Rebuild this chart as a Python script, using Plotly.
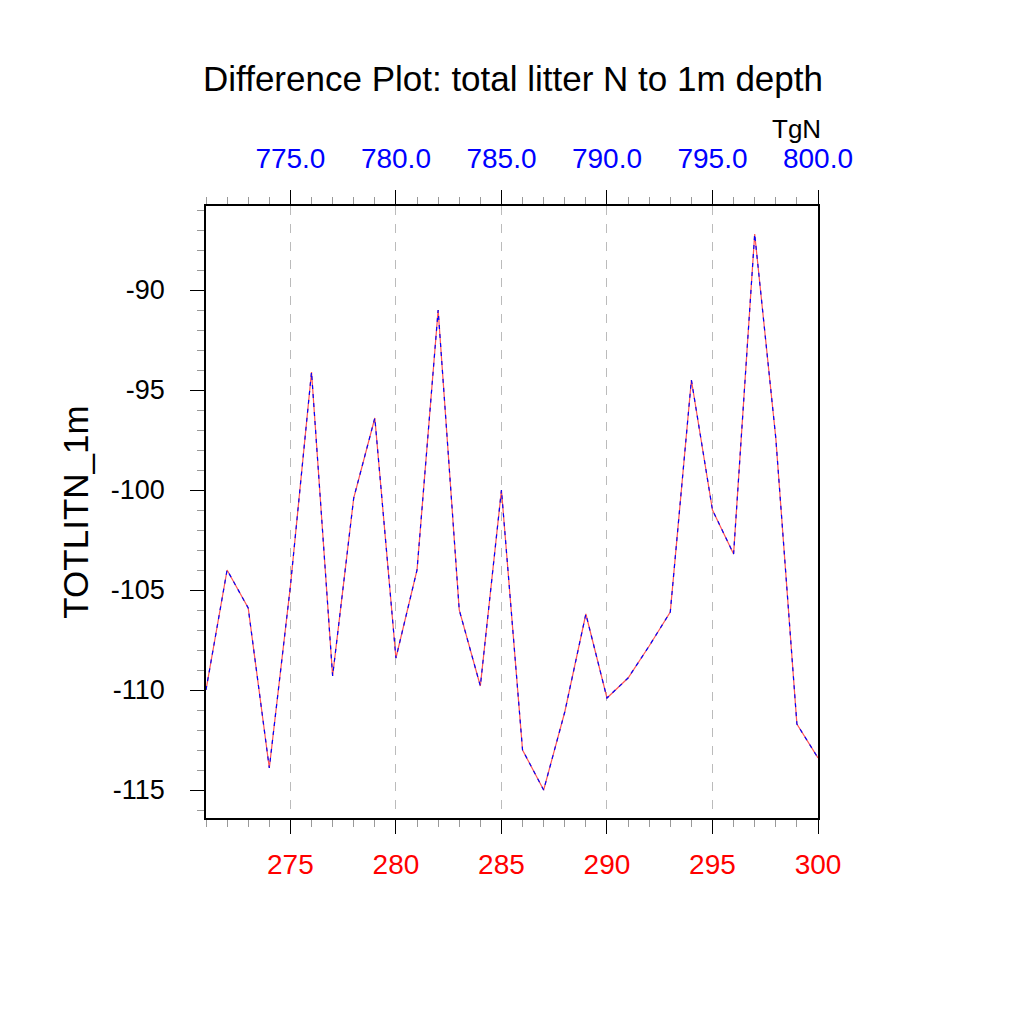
import plotly.graph_objects as go

# x positions and TOTLITN_1m differences
years = list(range(271, 301))
totlitn_diff = [
    -110.0, -104.0, -105.9, -113.9, -104.8, -94.1, -109.3, -100.4, -96.4, -108.4,
    -104.0, -91.0, -106.0, -109.8, -100.0, -113.0, -115.0, -111.1, -106.2, -110.4,
    -109.4, -107.8, -106.1, -94.5, -101.0, -103.2, -87.2, -97.4, -111.7, -113.4,
]

bottom_ticks = [275, 280, 285, 290, 295, 300]
top_ticks = [775, 780, 785, 790, 795, 800]
top_labels = ['775.0', '780.0', '785.0', '790.0', '795.0', '800.0']
y_ticks = [-90, -95, -100, -105, -110, -115]
y_labels = ['-90', '-95', '-100', '-105', '-110', '-115']

font = 'Liberation Sans, Arial, sans-serif'

fig = go.Figure()

# red solid line underneath, blue dashed copy on top
fig.add_trace(go.Scatter(
    x=years, y=totlitn_diff, mode='lines',
    line=dict(color='#ff5555', width=1.2),
    showlegend=False,
))
fig.add_trace(go.Scatter(
    x=years, y=totlitn_diff, mode='lines',
    line=dict(color='blue', width=1.2, dash='4px,5px'),
    showlegend=False,
))
# invisible trace so the top axis exists
fig.add_trace(go.Scatter(
    x=[y + 500 for y in years], y=totlitn_diff, mode='lines',
    line=dict(width=0), opacity=0, hoverinfo='skip',
    xaxis='x2', showlegend=False,
))

fig.update_layout(
    width=1024, height=1024,
    margin=dict(l=198, r=214, t=198, b=214),
    paper_bgcolor='white', plot_bgcolor='white',
    font=dict(family=font, color='black'),
    title=dict(
        text='Difference Plot: total litter N to 1m depth',
        x=(512 - 7) / 1024, xanchor='center', y=1 - 71 / 1024, yanchor='middle',
        font=dict(size=35),
    ),
    xaxis=dict(
        range=[271, 300],
        tickvals=bottom_ticks,
        tickfont=dict(size=28, color='red'),
        ticks='outside', ticklen=14, tickwidth=1.2, tickcolor='black',
        minor=dict(dtick=1, tick0=271, ticks='outside', ticklen=7, tickcolor='#999999'),
        ticklabelstandoff=7,
        showline=True, linecolor='black', linewidth=1.5,
        showgrid=True, gridcolor='#bbbbbb', griddash='dash', gridwidth=1,
        zeroline=False,
    ),
    xaxis2=dict(
        range=[771, 800],
        overlaying='x', side='top',
        tickvals=top_ticks, ticktext=top_labels,
        tickfont=dict(size=28, color='blue'),
        ticks='outside', ticklen=14, tickwidth=1.2, tickcolor='black',
        minor=dict(dtick=1, tick0=771, ticks='outside', ticklen=7, tickcolor='#999999'),
        ticklabelstandoff=11,
        showline=True, linecolor='black', linewidth=1.5,
        showgrid=False, zeroline=False,
    ),
    yaxis=dict(
        range=[-116.4, -85.8],
        tickvals=y_ticks, ticktext=y_labels,
        tickfont=dict(size=27),
        ticks='outside', ticklen=14, tickwidth=1.2, tickcolor='black',
        minor=dict(dtick=1, tick0=-116, ticks='outside', ticklen=7, tickcolor='#999999'),
        ticklabelstandoff=20,
        showline=True, linecolor='black', linewidth=1.5, mirror=True,
        showgrid=False, zeroline=False,
        title=dict(text='TOTLITN_1m', font=dict(size=35), standoff=12),
    ),
    annotations=[dict(
        text='TgN', xref='paper', yref='paper',
        x=(797 - 205) / 614, y=(1024 - 128 - 206) / 613,
        xanchor='center', yanchor='middle', showarrow=False,
        font=dict(size=26, color='black'),
    )],
)

fig.write_html('out.html')
